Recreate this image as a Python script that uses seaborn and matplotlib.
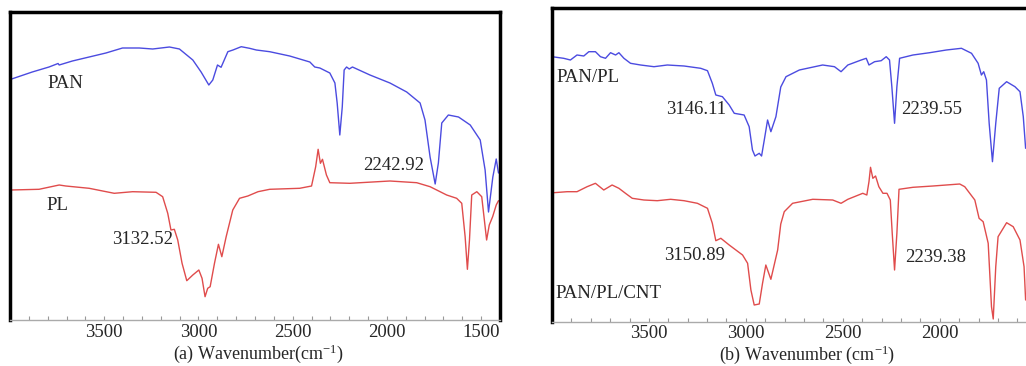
import numpy as np
import pandas as pd
import seaborn as sns
import matplotlib.pyplot as plt
from matplotlib.ticker import MultipleLocator

# FTIR spectra (wavenumber in cm-1, transmittance in a.u.)
pan_wn = [3996, 3882, 3793, 3745, 3739, 3669, 3580, 3491, 3403, 3314, 3243, 3154, 3101,
          3030, 2986, 2945, 2924, 2899, 2880, 2844, 2817, 2773, 2729, 2693, 2622, 2516,
          2409, 2383, 2356, 2303, 2276, 2264, 2250, 2237, 2227, 2214, 2200, 2183, 2090,
          1984, 1895, 1824, 1798, 1771, 1744, 1727, 1709, 1674, 1620, 1558, 1505, 1479,
          1461, 1438, 1420, 1408]
pan_t = [240.7, 248, 253, 256.5, 255, 259, 263, 267, 272, 272, 271, 273, 271,
         260, 248, 235, 240, 255, 252.7, 268.3, 270, 273.3, 271.7, 270, 268.3, 264,
         258, 253, 252, 247, 237, 217, 185, 213, 250, 253, 251, 253, 245,
         237, 228, 217, 200, 163, 136, 157, 197, 205, 203, 195, 180, 150,
         108, 143, 161, 147]

pl_wn = [3996, 3846, 3739, 3704, 3580, 3447, 3349, 3225, 3190, 3163, 3146, 3128, 3110,
         3087, 3062, 3030, 2998, 2981, 2965, 2951, 2938, 2915, 2894, 2876, 2853, 2818,
         2782, 2738, 2684, 2622, 2463, 2400, 2378, 2365, 2353, 2342, 2321, 2303, 2197,
         1984, 1842, 1771, 1718, 1683, 1630, 1603, 1585, 1573, 1562, 1550, 1523, 1497,
         1483, 1471, 1457, 1439, 1420, 1408]
pl_t = [130, 130.7, 135, 134, 131.7, 126.7, 128.3, 127.7, 123.3, 106.7, 90, 90.7, 80,
        56.7, 39.3, 45, 50, 41.7, 23.3, 31.7, 33.3, 56.7, 75.7, 63.3, 83.3, 110,
        121.7, 124, 128.3, 130.7, 131.7, 134, 153.3, 170.7, 156.7, 160.7, 145, 137.3, 136.7,
        139, 137.3, 133.3, 128.3, 125, 121.7, 116.7, 83.3, 50.7, 80, 125, 128.3, 123.3,
        100, 80, 95, 103.3, 115, 119.3]

panpl_wn = [4000, 3940, 3905, 3871, 3836, 3810, 3776, 3750, 3724, 3698, 3672, 3655, 3629,
            3595, 3543, 3474, 3405, 3319, 3233, 3198, 3173, 3155, 3121, 3086, 3060, 3009,
            2983, 2966, 2953, 2931, 2919, 2905, 2888, 2871, 2845, 2820, 2793, 2724, 2604,
            2543, 2509, 2474, 2405, 2379, 2365, 2336, 2302, 2276, 2259, 2247, 2233, 2221,
            2207, 2138, 2052, 1966, 1888, 1836, 1802, 1785, 1773, 1759, 1745, 1728, 1711,
            1693, 1655, 1612, 1586, 1569, 1557]
panpl_t = [265.3, 263.7, 262, 267, 266, 270.3, 270.3, 265.3, 263.7, 269.3, 267, 269.3, 263.7,
           258.7, 257, 255.3, 257, 256, 253.7, 251.3, 238.7, 227, 225.3, 217, 208.7, 207,
           195.3, 172, 166, 168.7, 166, 182, 202, 190.3, 205.3, 235, 245.3, 252, 257,
           255.3, 250.3, 257, 262, 263.7, 257, 260.3, 261.3, 265.3, 262, 235.3, 198.7, 235.3,
           263.7, 267, 269.3, 272, 273.7, 268.7, 258.7, 247, 250.3, 242, 198.7, 160.3, 198.7,
           233.7, 240.3, 235.3, 230.3, 205.3, 173.7]

cnt_wn = [3991, 3922, 3871, 3819, 3776, 3733, 3690, 3655, 3621, 3586, 3526, 3457, 3388,
          3319, 3250, 3198, 3173, 3155, 3129, 3086, 3017, 2991, 2974, 2957, 2931, 2914,
          2897, 2871, 2836, 2820, 2802, 2759, 2655, 2552, 2509, 2474, 2397, 2376, 2365,
          2357, 2345, 2331, 2314, 2293, 2272, 2255, 2245, 2233, 2221, 2210, 2138, 2035,
          1897, 1871, 1819, 1797, 1776, 1750, 1733, 1724, 1711, 1699, 1655, 1621, 1586,
          1565, 1557]
cnt_t = [129.3, 130.3, 130.3, 135.3, 138.7, 132, 137, 133.7, 128.7, 123.7, 122, 121.3, 122.7,
         121.3, 118.7, 113.7, 98.7, 81.3, 83.7, 77, 67, 58.7, 32, 17, 18, 38.7,
         57, 42.7, 72, 98, 110.3, 118.7, 122.7, 122, 118.7, 122.7, 128.7, 127, 140.3,
         154.7, 143.7, 146, 135.3, 128.7, 128.7, 122, 88.7, 52, 88.7, 132.7, 134.7, 136,
         138, 135.3, 122, 103.7, 100.3, 78.7, 15.3, 3, 55.3, 85.3, 99.3, 95.3, 82,
         55.3, 22]

BLUE = '#4b4be0'
RED = '#e04c4c'

sns.set_style('white')
plt.rcParams['font.family'] = ['Liberation Serif', 'DejaVu Serif']
plt.rcParams['mathtext.default'] = 'regular'

fig = plt.figure(figsize=(10.26, 3.66), dpi=100)
ax1 = fig.add_axes([10 / 1026, 1 - 320 / 366, 490 / 1026, 308 / 366])
ax2 = fig.add_axes([552 / 1026, 1 - 322 / 366, 474 / 1026, 314 / 366])

sns.lineplot(x=pan_wn, y=pan_t, ax=ax1, color=BLUE, lw=1, estimator=None)
sns.lineplot(x=pl_wn, y=pl_t, ax=ax1, color=RED, lw=1, estimator=None)
sns.lineplot(x=panpl_wn, y=panpl_t, ax=ax2, color=BLUE, lw=1, estimator=None)
sns.lineplot(x=cnt_wn, y=cnt_t, ax=ax2, color=RED, lw=1, estimator=None)

ax1.set_xlim(4000, 1400)
ax1.set_ylim(0, 308)
ax2.set_xlim(4000, 1555)
ax2.set_ylim(0, 314)

for ax in (ax1, ax2):
    ax.set_yticks([])
    ax.set_ylabel('')
    ax.xaxis.set_major_locator(MultipleLocator(500))
    ax.xaxis.set_minor_locator(MultipleLocator(100))
    ax.tick_params(axis='x', which='both', direction='in', length=3, width=0.8,
                   color='#999999', labelsize=13.5, pad=3, bottom=True)
    ax.spines['bottom'].set_color('#aaaaaa')
    ax.spines['bottom'].set_linewidth(1)
    for s in ('left', 'top', 'right'):
        ax.spines[s].set_color('black')
        ax.spines[s].set_linewidth(2.5)
ax2.spines['right'].set_visible(False)
ax2.tick_params(axis='x', pad=2)
ax1.set_xticks([3500, 3000, 2500, 2000, 1500])
ax2.set_xticks([3500, 3000, 2500, 2000])

fs = 13.5
ax1.text(3803, 236, 'PAN', fontsize=fs, ha='left', va='center')
ax1.text(3809, 115, 'PL', fontsize=fs, ha='left', va='center')
ax1.text(3457, 80, '3132.52', fontsize=fs, ha='left', va='center')
ax1.text(2127, 155, '2242.92', fontsize=fs, ha='left', va='center')

ax2.text(3976, 245, 'PAN/PL', fontsize=fs, ha='left', va='center')
ax2.text(3412, 213, '3146.11', fontsize=fs, ha='left', va='center')
ax2.text(2197, 212, '2239.55', fontsize=fs, ha='left', va='center')
ax2.text(3422, 66, '3150.89', fontsize=fs, ha='left', va='center')
ax2.text(2176, 65, '2239.38', fontsize=fs, ha='left', va='center')
ax2.text(3981, 29, 'PAN/PL/CNT', fontsize=fs, ha='left', va='center')

fig.text(258 / 1026, 1 - 354 / 366, '(a) Wavenumber(cm$^{-1}$)', fontsize=13,
         ha='center', va='center')
fig.text(807 / 1026, 1 - 355 / 366, '(b) Wavenumber (cm$^{-1}$)', fontsize=13,
         ha='center', va='center')

fig.savefig('out.png', dpi=100)
